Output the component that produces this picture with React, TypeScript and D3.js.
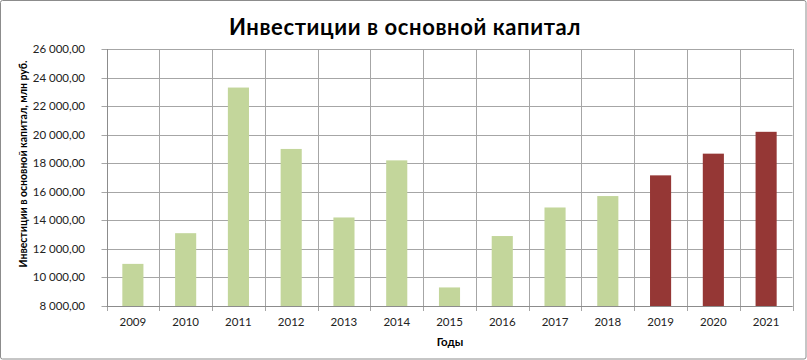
import React from "react";
import * as d3 from "d3";

const years = ["2009","2010","2011","2012","2013","2014","2015","2016","2017","2018","2019","2020","2021"];
const values = [10950, 13100, 23300, 19000, 14200, 18200, 9300, 12900, 14900, 15700, 17150, 18670, 20200];
const forecast = [false,false,false,false,false,false,false,false,false,false,true,true,true];
const yTicks = [8000,10000,12000,14000,16000,18000,20000,22000,24000,26000];
const title = "Инвестиции в основной капитал";
const yTitle = "Инвестиции в основной капитал, млн руб.";
const xTitle = "Годы";

const W = 807, H = 360;
const m = { left: 106.5, right: 792.5, top: 49, bottom: 306 };

const fmt = (v: number) => {
  const s = Math.round(v).toString();
  const grp = s.replace(/\B(?=(\d{3})+(?!\d))/g, " ");
  return grp + ",00";
};

export default function App() {
  const x = d3.scaleBand<string>().domain(years).range([m.left, m.right]).paddingInner(0.6).paddingOuter(0.3);
  const xb = d3.scaleBand<string>().domain(years).range([m.left, m.right]);
  const y = d3.scaleLinear().domain([8000, 26000]).range([m.bottom, m.top]);
  const font = "Lato, 'Open Sans', sans-serif";
  const grid = "#a6a6a6";
  return (
    <div style={{ position: "absolute", left: 0, top: 0 }}>
      <svg width={W} height={H} style={{ display: "block" }} fontFamily={font}>
        <rect x={0} y={0} width={W} height={H} fill="#fff" />
        <rect x={0.5} y={0.5} width={W - 1.5} height={H - 1.5} fill="none" stroke="#8c8c8c" strokeWidth={1} rx={2} />
        <text x={405} y={35} textAnchor="middle" fontSize={22} fontWeight={700} fill="#000" letterSpacing={0.6}>{title}</text>
        {yTicks.map(t => (
          <g key={t}>
            <line x1={m.left - 5} x2={m.right} y1={Math.round(y(t)) + 0.5} y2={Math.round(y(t)) + 0.5} stroke={grid} strokeWidth={1} />
            <text x={85} y={y(t) + 4} textAnchor="end" fontSize={11.5} fill="#222">{fmt(t)}</text>
          </g>
        ))}
        {years.map((yr, i) => (
          <line key={"v" + yr} x1={Math.round(xb(yr)!) + 0.5} x2={Math.round(xb(yr)!) + 0.5} y1={m.top} y2={m.bottom + 5} stroke={grid} />
        ))}
        <line x1={Math.round(m.right) + 0.5} x2={Math.round(m.right) + 0.5} y1={m.top} y2={m.bottom + 5} stroke={grid} />
        {years.map((yr, i) => (
          <rect key={"b" + yr} x={x(yr)} width={x.bandwidth()} y={y(values[i])} height={y(8000) - y(values[i])}
            fill={forecast[i] ? "#953735" : "#c3d69b"} />
        ))}
        <line x1={m.left} x2={m.right} y1={Math.round(m.bottom) + 0.5} y2={Math.round(m.bottom) + 0.5} stroke="#8c8c8c" />
        <line x1={Math.round(m.left) + 0.5} x2={Math.round(m.left) + 0.5} y1={m.top} y2={m.bottom} stroke="#8c8c8c" />
        {years.map(yr => (
          <text key={"t" + yr} x={xb(yr)! + xb.bandwidth() / 2} y={326} textAnchor="middle" fontSize={11.5} fill="#222">{yr}</text>
        ))}
        <text x={450} y={346} textAnchor="middle" fontSize={11.5} fontWeight={700} fill="#000">{xTitle}</text>
        <text transform={`translate(27,164) rotate(-90)`} textAnchor="middle" fontSize={10.5} fontWeight={700} fill="#000">{yTitle}</text>
      </svg>
    </div>
  );
}
